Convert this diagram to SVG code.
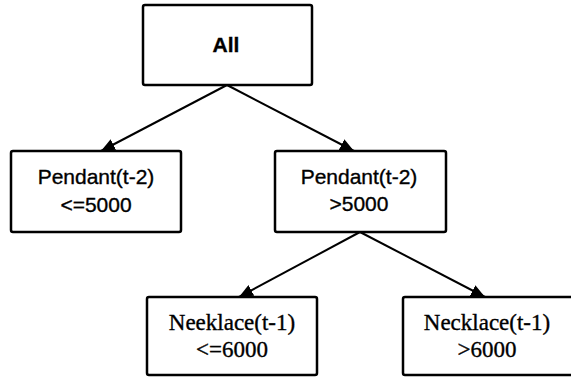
<svg xmlns="http://www.w3.org/2000/svg" width="571" height="377" viewBox="0 0 571 377">
  <defs>
    <marker id="arrow" viewBox="0 0 14 12" refX="14" refY="6" markerWidth="14" markerHeight="12" markerUnits="userSpaceOnUse" orient="auto">
      <path d="M0,0 L14,6 L0,12 z" fill="#000"/>
    </marker>
    <style>
      .box { fill: #fff; stroke: #000; stroke-width: 2.5; }
      .edge { stroke: #000; stroke-width: 2; fill: none; marker-end: url(#arrow); }
      .sans { font-family: "Liberation Sans", Arial, sans-serif; font-size: 21px; fill: #000; stroke: #000; stroke-width: 0.35; text-anchor: middle; }
      .serif { font-family: "Liberation Serif", "Times New Roman", serif; font-size: 23px; fill: #000; stroke: #000; stroke-width: 0.35; text-anchor: middle; }
    </style>
  </defs>
  <rect width="571" height="377" fill="#fff"/>

  <g id="connectors">
    <line class="edge" x1="227" y1="85" x2="101" y2="151"/>
    <line class="edge" x1="227" y1="85" x2="354" y2="151"/>
    <line class="edge" x1="360" y1="232" x2="239" y2="297"/>
    <line class="edge" x1="360" y1="232" x2="485" y2="297"/>
  </g>

  <g id="node-all">
    <rect class="box" x="143" y="5" width="169" height="80" rx="2"/>
    <text class="sans" x="226" y="52" font-weight="bold" font-size="22">All</text>
  </g>

  <g id="node-pendant-low">
    <rect class="box" x="11" y="151" width="170" height="81" rx="2"/>
    <text class="sans" x="96" y="184">Pendant(t-2)</text>
    <text class="sans" x="96" y="212">&lt;=5000</text>
  </g>

  <g id="node-pendant-high">
    <rect class="box" x="275" y="151" width="171" height="81" rx="2"/>
    <text class="sans" x="359" y="184">Pendant(t-2)</text>
    <text class="sans" x="359" y="211">&gt;5000</text>
  </g>

  <g id="node-necklace-low">
    <rect class="box" x="147" y="297" width="170" height="78" rx="2"/>
    <text class="serif" x="232" y="330">Neeklace(t-1)</text>
    <text class="serif" x="232" y="357">&lt;=6000</text>
  </g>

  <g id="node-necklace-high">
    <rect class="box" x="403" y="297" width="170" height="78" rx="2"/>
    <text class="serif" x="487" y="330">Necklace(t-1)</text>
    <text class="serif" x="487" y="357">&gt;6000</text>
  </g>
</svg>
